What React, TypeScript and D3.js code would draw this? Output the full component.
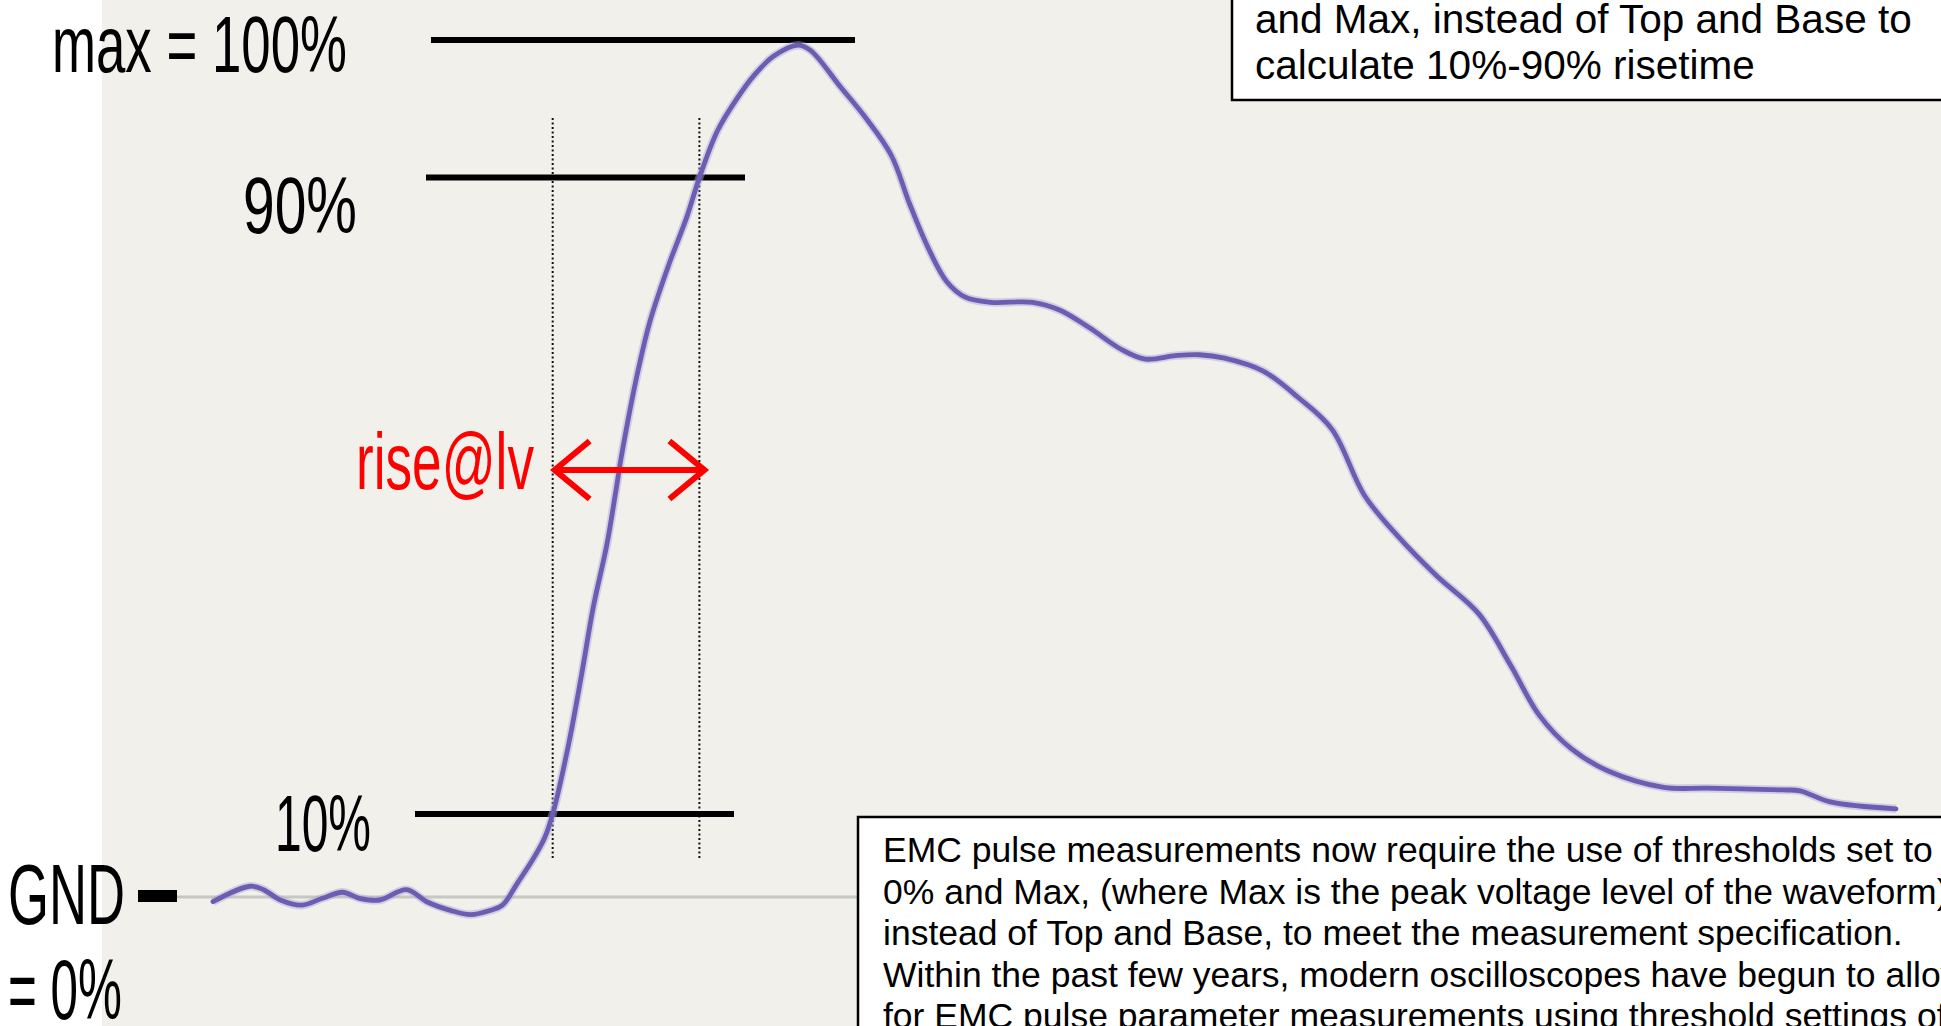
import React from 'react';
import * as d3 from 'd3';

// ---------- data ----------
// waveform samples: time (% of record length) and amplitude (% of Max, GND = 0)
const waveTime = [
  0, 2.2, 3.0, 4.0, 5.3, 6.5, 7.7, 8.7, 9.9, 11.5, 12.7, 14.1, 15.3, 16.5, 17.2, 18.1, 19.0, 19.7,
  20.2, 21.15, 21.9, 22.6, 23.4, 23.9, 24.25, 24.65, 25.25, 25.95, 27.05, 28.15, 28.9, 29.99, 31.1,
  32.2, 33.3, 34.76, 35.5, 37.3, 38.8, 40.3, 41.4, 42.5, 43.6, 44.7, 46.2, 48.7, 50.3, 52.1, 53.9,
  55.4, 57.2, 58.6, 60.1, 62.4, 64.5, 66.5, 68.4, 70.4, 72.7, 75.2, 77.1, 78.8, 80.7, 82.9, 86.2,
  88.8, 93.3, 94.3, 96.1, 100,
];
const waveLevel = [
  -0.2, 1.6, 1.2, 0, -0.6, 0.2, 0.9, 0.2, 0, 1.2, -0.2, -1.2, -1.7, -1.2, -0.6, 2.0, 4.7, 7.2,
  10.1, 18.3, 26.2, 34.1, 41.3, 47.1, 51.4, 55.7, 61.5, 67.2, 73.7, 79.4, 84.0, 89.5, 93.1,
  96.0, 98.1, 99.4, 98.8, 94.5, 90.9, 86.6, 80.9, 75.8, 71.9, 70.1, 69.5, 69.5, 68.6, 66.5, 64.1,
  62.9, 63.3, 63.4, 63.0, 61.5, 58.4, 54.7, 47.1, 42.3, 37.7, 33.3, 27.3, 21.5, 17.6, 15.0, 13.1,
  13.0, 12.8, 12.7, 11.4, 10.6,
];

const thresholdLabels = ['max = 100%', '90%', '10%'];
const thresholdLevels = [100, 84, 10];
const riseStartLevel = 10;
const riseEndLevel = 84;
const riseLabel = 'rise@lv';
const riseLabelLevel = 50;
const gndLabel = 'GND';
const gndValueLabel = '= 0%';

const topNoteLines = ['and Max, instead of Top and Base to', 'calculate 10%-90% risetime'];
const bottomNoteLines = [
  'EMC pulse measurements now require the use of thresholds set to',
  '0% and Max, (where Max is the peak voltage level of the waveform)',
  'instead of Top and Base, to meet the measurement specification.',
  'Within the past few years, modern oscilloscopes have begun to allow',
  'for EMC pulse parameter measurements using threshold settings of',
];

// ---------- layout ----------
const W = 1941;
const H = 1026;
const FONT = '"Liberation Sans", Arial, Helvetica, sans-serif';
const PLOT = { x0: 213, x1: 1896, yGnd: 900, yMax: 40 };
const lineExtents = [
  [431, 855],
  [426, 745],
  [415, 734],
];
const labelBoxes = [
  { x: 52, w: 295, base: 72, size: 79 },
  { x: 243, w: 114, base: 233, size: 80 },
  { x: 275, w: 96, base: 851, size: 80 },
];

function crossing(level: number): number {
  for (let i = 0; i < waveLevel.length - 1; i++) {
    const a = waveLevel[i];
    const b = waveLevel[i + 1];
    if (a < level && b >= level) {
      const f = (level - a) / (b - a);
      return waveTime[i] + f * (waveTime[i + 1] - waveTime[i]);
    }
  }
  return waveTime[0];
}

export default function App() {
  const x = d3.scaleLinear().domain([0, 100]).range([PLOT.x0, PLOT.x1]);
  const y = d3.scaleLinear().domain([0, 100]).range([PLOT.yGnd, PLOT.yMax]);
  const pts: [number, number][] = waveTime.map((t, i) => [t, waveLevel[i]]);
  const line = d3
    .line<[number, number]>()
    .x((d) => x(d[0]))
    .y((d) => y(d[1]))
    .curve(d3.curveCatmullRom.alpha(0.5));
  const pathD = line(pts) || '';

  const xr0 = x(crossing(riseStartLevel));
  const xr1 = x(crossing(riseEndLevel));
  const ya = y(riseLabelLevel);
  const a0 = xr0 + 2;
  const a1 = xr1 + 5;
  const hx = 35;
  const hy = 29;

  return (
    <svg
      width={W}
      height={H}
      viewBox={`0 0 ${W} ${H}`}
      style={{ position: 'absolute', left: 0, top: 0, display: 'block' }}
    >
      <rect x={0} y={0} width={W} height={H} fill="#ffffff" />
      <rect x={102} y={0} width={W - 102} height={H} fill="#f1f0eb" />

      {/* GND reference line */}
      <line x1={177} x2={858} y1={897} y2={897} stroke="#c8c8c2" strokeWidth={3} />

      {/* dotted rise-time markers */}
      {[xr0, xr1].map((xx, i) => (
        <line
          key={i}
          x1={xx}
          x2={xx}
          y1={118}
          y2={860}
          stroke="#111"
          strokeWidth={2}
          strokeDasharray="2 2.5"
        />
      ))}

      {/* threshold lines */}
      {thresholdLevels.map((lv, i) => (
        <line
          key={i}
          x1={lineExtents[i][0]}
          x2={lineExtents[i][1]}
          y1={y(lv)}
          y2={y(lv)}
          stroke="#000"
          strokeWidth={6}
        />
      ))}

      {/* waveform */}
      <path d={pathD} fill="none" stroke="#aaa3d6" strokeWidth={8.5} strokeOpacity={0.45} strokeLinejoin="round" />
      <path d={pathD} fill="none" stroke="#6a5db2" strokeWidth={4.8} strokeLinejoin="round" strokeLinecap="round" />

      {/* threshold labels */}
      {thresholdLabels.map((lab, i) => (
        <text
          key={i}
          x={labelBoxes[i].x}
          y={labelBoxes[i].base}
          fontFamily={FONT}
          fontSize={labelBoxes[i].size}
          fill="#000"
          textLength={labelBoxes[i].w}
          lengthAdjust="spacingAndGlyphs"
        >
          {lab}
        </text>
      ))}

      {/* GND label */}
      <text x={8} y={924} fontFamily={FONT} fontSize={86} fill="#000" textLength={117} lengthAdjust="spacingAndGlyphs">
        {gndLabel}
      </text>
      <rect x={138} y={890} width={39} height={12} fill="#000" />
      <text x={8} y={1019} fontFamily={FONT} fontSize={86} fill="#000" textLength={114} lengthAdjust="spacingAndGlyphs">
        {gndValueLabel}
      </text>

      {/* rise label and arrow */}
      <text x={356} y={489} fontFamily={FONT} fontSize={80} fill="#ff0000" textLength={178} lengthAdjust="spacingAndGlyphs">
        {riseLabel}
      </text>
      <g stroke="#ff0000" strokeWidth={6} fill="none" strokeLinecap="butt">
        <line x1={a0} x2={a1} y1={ya} y2={ya} />
        <polyline points={`${a0 + hx},${ya - hy} ${a0},${ya} ${a0 + hx},${ya + hy}`} />
        <polyline points={`${a1 - hx},${ya - hy} ${a1},${ya} ${a1 - hx},${ya + hy}`} />
      </g>

      {/* top-right note */}
      <rect x={1232} y={-20} width={800} height={120} fill="#ffffff" stroke="#000" strokeWidth={2.5} />
      {topNoteLines.map((t, i) => (
        <text key={i} x={1255} y={33 + i * 46} fontFamily={FONT} fontSize={40.5} fill="#000">
          {t}
        </text>
      ))}

      {/* bottom-right note */}
      <rect x={858} y={817} width={1200} height={300} fill="#ffffff" stroke="#000" strokeWidth={2.5} />
      {bottomNoteLines.map((t, i) => (
        <text key={i} x={883} y={862 + i * 41.5} fontFamily={FONT} fontSize={35.5} fill="#000">
          {t}
        </text>
      ))}
    </svg>
  );
}
